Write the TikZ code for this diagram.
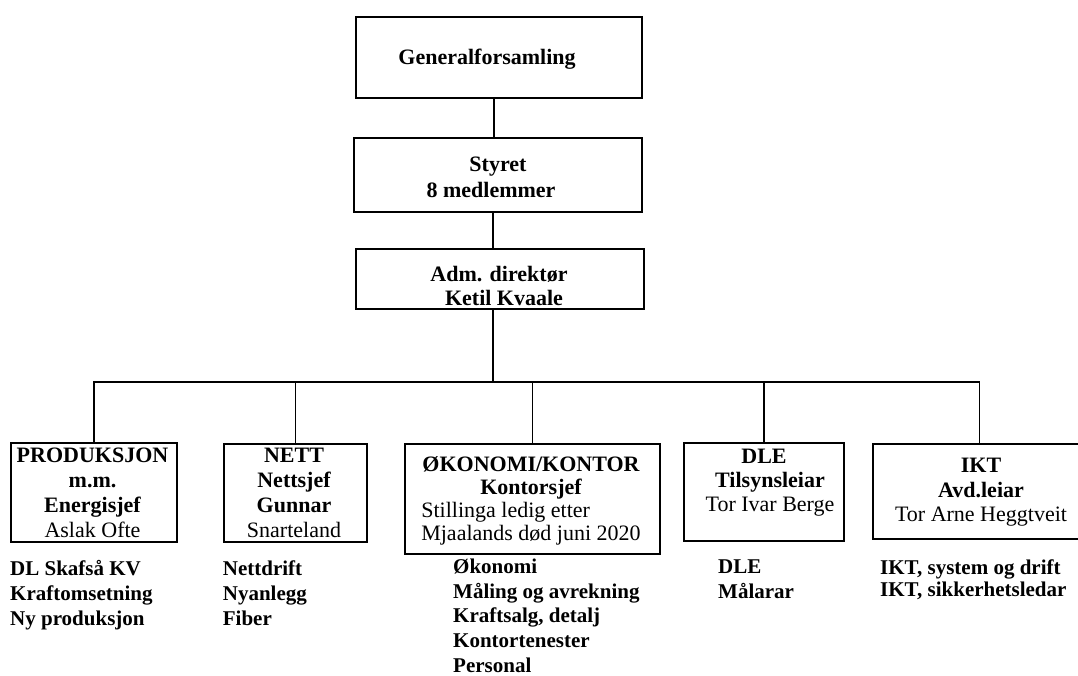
\documentclass[tikz,border=0pt]{standalone}
\usepackage{fontspec}
\setmainfont{Liberation Serif}
\newcommand{\bxfont}[1]{\fontsize{22}{#1}\selectfont\bfseries}
\newcommand{\itfont}[1]{\fontsize{21}{#1}\selectfont\bfseries}
\begin{document}
\begin{tikzpicture}[x=1pt,y=-1pt,
  box/.style={draw, line width=1.6pt, inner sep=0pt, anchor=north west},
  boxtext/.style={anchor=north, inner sep=0pt},
  items/.style={anchor=north west, inner sep=0pt},
  conn/.style={line width=1.6pt}]
\fill[white] (0,0) rectangle (1078,675);
\useasboundingbox (0,0) rectangle (1078,675);

% boxes
\node[box, minimum width=286pt, minimum height=81pt] (gf) at (355,16) {};
\node[box, minimum width=288pt, minimum height=74pt] (st) at (353,137) {};
\node[box, minimum width=288pt, minimum height=60pt] (ad) at (355,248) {};
\node[box, minimum width=166pt, minimum height=99pt] (pr) at (10,442) {};
\node[box, minimum width=143pt, minimum height=98pt] (ne) at (223,443) {};
\node[box, minimum width=255pt, minimum height=110pt] (ok) at (404,443) {};
\node[box, minimum width=160pt, minimum height=98pt] (dl) at (683,442) {};
\node[box, minimum width=213pt, minimum height=95pt] (ik) at (872,443) {};

% box texts
\node[boxtext] (gf-t) at (487,47.5) {\bxfont{24.5}\begin{tabular}{@{}c@{}}Generalforsamling\end{tabular}};
\node[boxtext] (st-t) at (491,153.6) {\bxfont{25.5}\begin{tabular}{@{}c@{}}\hspace*{14pt}Styret\\8 medlemmer\end{tabular}};
\node[boxtext] (ad-t) at (499,265.2) {\bxfont{23.5}\begin{tabular}{@{}c@{}}Adm. direktør\\\hspace*{10pt}Ketil Kvaale\end{tabular}};
\node[boxtext] (pr-t) at (92.5,445.2) {\bxfont{25}\begin{tabular}{@{}c@{}}PRODUKSJON\\m.m.\\Energisjef\\\mdseries Aslak Ofte\end{tabular}};
\node[boxtext] (ne-t) at (294,445.2) {\bxfont{25}\begin{tabular}{@{}c@{}}NETT\\Nettsjef\\Gunnar\\\mdseries Snarteland\end{tabular}};
\node[boxtext] (ok-t) at (531,455.6) {\bxfont{23}\begin{tabular}{@{}l@{}}\multicolumn{1}{@{}c@{}}{ØKONOMI/KONTOR}\\\multicolumn{1}{@{}c@{}}{Kontorsjef}\\\mdseries Stillinga ledig etter\\\mdseries Mjaalands død juni 2020\end{tabular}};
\node[boxtext] (dl-t) at (770,446.4) {\bxfont{24.2}\begin{tabular}{@{}c@{}}DLE\hspace*{12pt}\\Tilsynsleiar\\\mdseries Tor Ivar Berge\end{tabular}};
\node[boxtext] (ik-t) at (981,455.5) {\bxfont{24.5}\begin{tabular}{@{}c@{}}IKT\\Avd.leiar\\\mdseries Tor Arne Heggtveit\end{tabular}};

% item lists
\node[items] (pr-i) at (10,557.5) {\itfont{25}\begin{tabular}{@{}l@{}}DL Skafså KV\\Kraftomsetning\\Ny produksjon\end{tabular}};
\node[items] (ne-i) at (222.7,557.5) {\itfont{25}\begin{tabular}{@{}l@{}}Nettdrift\\Nyanlegg\\Fiber\end{tabular}};
\node[items] (ok-i) at (453,555.8) {\itfont{24.8}\begin{tabular}{@{}l@{}}Økonomi\\Måling og avrekning\\Kraftsalg, detalj\\Kontortenester\\Personal\end{tabular}};
\node[items] (dl-i) at (718,555.8) {\itfont{24.8}\begin{tabular}{@{}l@{}}DLE\\Målarar\end{tabular}};
\node[items] (ik-i) at (880,558.6) {\itfont{22}\begin{tabular}{@{}l@{}}IKT, system og drift\\IKT, sikkerhetsledar\end{tabular}};

% connectors
\coordinate (spine) at (494,0);
\coordinate (bus) at (493,382);
\draw[conn] (gf.south -| spine) -- (st.north -| spine);
\draw[conn] (st.south -| bus) -- (ad.north -| bus);
\draw[conn] (ad.south -| bus) -- (bus);
\draw[conn] (pr.north) |- (bus) -| (ik.north);
\draw[conn] (ne.north) -- (ne.north |- bus);
\draw[conn] (ok.north) -- (ok.north |- bus);
\draw[conn] (dl.north) -- (dl.north |- bus);
\end{tikzpicture}
\end{document}
